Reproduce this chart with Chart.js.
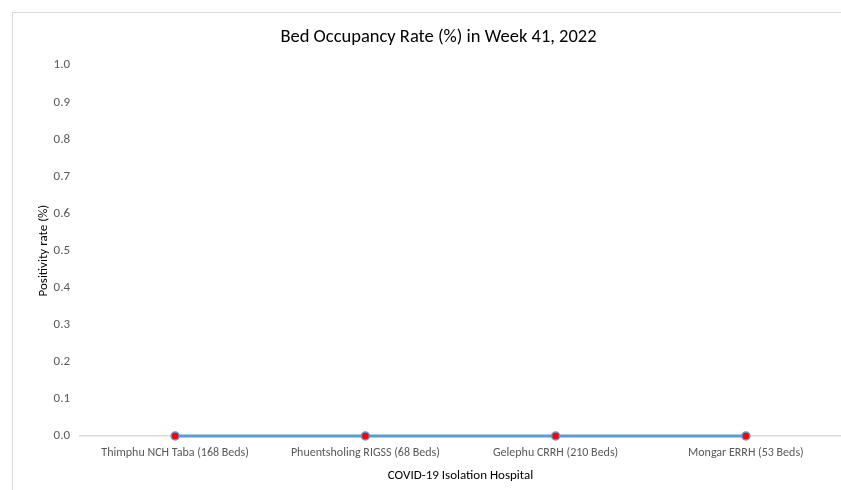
<!DOCTYPE html>
<html>
<head>
<meta charset="utf-8">
<script src="https://cdn.jsdelivr.net/npm/chart.js@4"></script>
<style>
  html, body { margin: 0; padding: 0; background: #fff; }
  #wrap { position: relative; width: 841px; height: 490px; }
  #frame { position: absolute; left: 12px; top: 12px; right: -2px; bottom: -2px; border: 1px solid #d9d9d9; }
  canvas { position: absolute; left: 0; top: 0; }
</style>
</head>
<body>
<div id="wrap">
  <div id="frame"></div>
  <canvas id="chart" width="841" height="490"></canvas>
</div>
<script>
const hospitals = [
  'Thimphu NCH Taba (168 Beds)',
  'Phuentsholing RIGSS (68 Beds)',
  'Gelephu CRRH (210 Beds)',
  'Mongar ERRH (53 Beds)'
];
const occupancy = [0, 0, 0, 0];
const yTicks = [0, 0.1, 0.2, 0.3, 0.4, 0.5, 0.6, 0.7, 0.8, 0.9, 1.0];

const font = "Carlito, 'Open Sans', 'Liberation Sans', sans-serif";

new Chart(document.getElementById('chart').getContext('2d'), {
  type: 'line',
  data: {
    labels: hospitals,
    datasets: [{
      label: 'Bed Occupancy Rate',
      data: occupancy,
      borderColor: '#5b9bd5',
      borderWidth: 3,
      backgroundColor: '#ff0000',
      pointBackgroundColor: '#ff0000',
      pointBorderColor: '#5b9bd5',
      pointBorderWidth: 1.5,
      pointRadius: 4,
      tension: 0,
      clip: false
    }]
  },
  options: {
    responsive: false,
    animation: false,
    layout: { autoPadding: false, padding: { top: 26, right: 0, left: 36, bottom: 0 } },
    plugins: {
      legend: { display: false },
      tooltip: { enabled: false },
      title: {
        display: true,
        text: 'Bed Occupancy Rate (%) in Week 41, 2022',
        color: '#000',
        font: { family: font, size: 18.5, weight: 'normal' },
        padding: { top: 0, bottom: 17 }
      }
    },
    scales: {
      x: {
        offset: true,
        afterFit: (axis) => { axis.height = 54; },
        grid: { display: false, drawTicks: false },
        border: { color: '#d9d9d9', width: 1.5 },
        ticks: { color: '#595959', font: { family: font, size: 12 }, padding: 10, maxRotation: 0, autoSkip: false },
        title: {
          display: true,
          text: 'COVID-19 Isolation Hospital',
          color: '#000',
          font: { family: font, size: 13 },
          padding: { top: 1, bottom: 6 }
        }
      },
      y: {
        min: 0,
        max: 1,
        afterBuildTicks: (axis) => { axis.ticks = yTicks.map(v => ({ value: v })); },
        afterFit: (axis) => { axis.width = 44; },
        grid: { display: false, drawTicks: false },
        border: { display: false },
        ticks: {
          color: '#595959',
          font: { family: font, size: 13 },
          padding: 10,
          callback: (v) => Number(v).toFixed(1)
        },
        title: {
          display: true,
          text: 'Positivity rate (%)',
          color: '#000',
          font: { family: font, size: 13 },
          padding: { top: 0, bottom: 4 }
        }
      }
    }
  }
});
</script>
</body>
</html>
